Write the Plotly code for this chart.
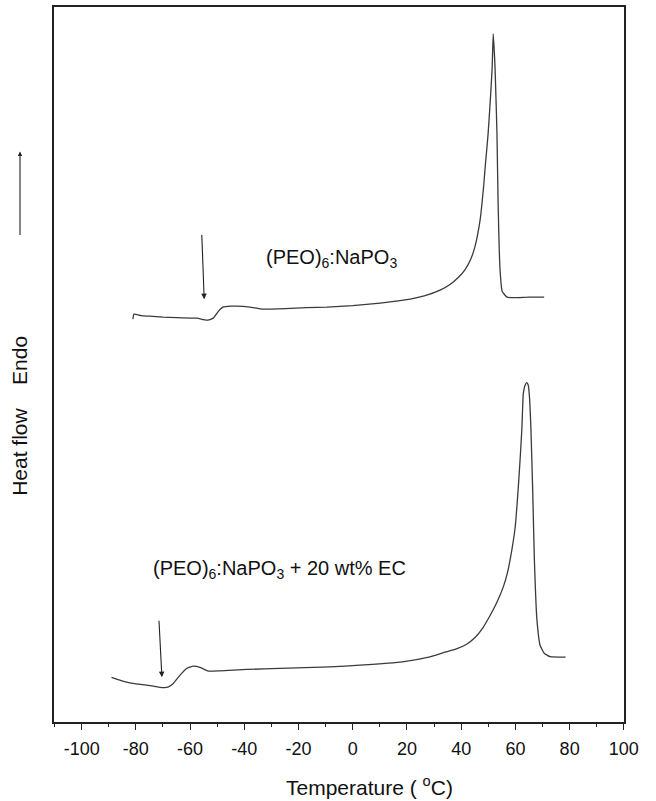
import plotly.graph_objects as go

# Sample 1: (PEO)6:NaPO3
t1 = [-81.1, -80.7, -78, -75, -70, -65, -60, -57.4, -55, -53.4, -51.5, -49.5, -47.9, -45, -42.7,
      -38, -33.1, -25, -17, -9.5, 0, 10.1, 21.2, 26.7, 32.2, 36, 39, 41.5, 43.5, 45, 46, 47,
      47.7, 48.3, 48.8, 49.9, 50.7, 51.4, 51.8, 52.5, 53.2, 53.6, 54.3, 55.1, 56.9, 60, 65, 70.6]
h1 = [40.4, 40.9, 40.75, 40.7, 40.6, 40.55, 40.5, 40.5, 40.35, 40.3, 40.5, 41.2, 41.6, 41.7, 41.7,
      41.6, 41.4, 41.45, 41.55, 41.6, 41.75, 42.0, 42.4, 42.75, 43.3, 43.9, 44.6, 45.4, 46.4, 47.6, 48.8, 50.4,
      52.1, 53.8, 55.5, 58.9, 62.2, 65.5, 69.0, 65.5, 58.9, 52.2, 45.5, 43.2, 42.6, 42.55, 42.6, 42.6]

# Sample 2: (PEO)6:NaPO3 + 20 wt% EC
t2 = [-89, -85.5, -82.2, -79, -76, -73.5, -71.1, -69.5, -68, -66.2, -63.7, -61.3, -58.8, -56.3,
      -53.3, -49, -39.1, -26.8, -8.4, 2.7, 18.3, 28, 34, 38, 42, 45, 48, 50.5, 53, 55.6, 57, 58, 59.9,
      60.9, 61.7, 62.4, 62.9, 63.6, 64.2, 64.7, 65.1, 65.7, 66.4, 67.0, 67.9, 69.1, 70.6, 72.8, 78.5]
h2 = [4.47, 4.15, 3.93, 3.8, 3.7, 3.6, 3.47, 3.45, 3.53, 3.87, 4.7, 5.37, 5.6, 5.47,
      5.1, 5.13, 5.27, 5.37, 5.53, 5.7, 6.03, 6.5, 7.0, 7.3, 7.8, 8.45, 9.45, 10.6, 11.9, 13.6, 14.9, 16.2, 19.5,
      22.9, 26.2, 29.5, 32.9, 33.8, 34.03, 33.8, 32.9, 29.53, 22.9, 16.2, 10.37, 7.7, 6.9, 6.55, 6.5]

x_ticks = [-100, -80, -60, -40, -20, 0, 20, 40, 60, 80, 100]
x_tick_text = ["-100", "-80", "-60", "-40", "-20", "0", "20", "40", "60", "80", "100"]
label1 = "(PEO)<sub>6</sub>:NaPO<sub>3</sub>"
label2 = "(PEO)<sub>6</sub>:NaPO<sub>3</sub> + 20 wt% EC"
# glass transition markers (arrow head x, y / tail x, y)
tg1 = dict(x=-54.8, y=42.4, ax=-55.7, ay=49.0)
tg2 = dict(x=-70.4, y=4.5, ax=-71.5, ay=10.3)

FONT = "Liberation Sans, Arial, sans-serif"
LC = "#3a3a3a"

fig = go.Figure()
fig.add_trace(go.Scatter(x=t1, y=h1, mode="lines", line=dict(color=LC, width=1.3, shape="spline", smoothing=0.4),
                         showlegend=False, hoverinfo="skip"))
fig.add_trace(go.Scatter(x=t2, y=h2, mode="lines", line=dict(color=LC, width=1.3, shape="spline", smoothing=0.4),
                         showlegend=False, hoverinfo="skip"))

for tg in (tg1, tg2):
    fig.add_annotation(x=tg["x"], y=tg["y"], ax=tg["ax"], ay=tg["ay"], xref="x", yref="y",
                       axref="x", ayref="y", text="", showarrow=True, arrowhead=2, arrowsize=1,
                       arrowwidth=1.1, arrowcolor="#222")

fig.add_annotation(x=(331 - 54) / 570, y=(722 - 257) / 717, xref="paper", yref="paper", text=label1,
                   showarrow=False, font=dict(family=FONT, size=20, color="#111"),
                   xanchor="center", yanchor="middle")
fig.add_annotation(x=(279 - 54) / 570, y=(722 - 569) / 717, xref="paper", yref="paper", text=label2,
                   showarrow=False, font=dict(family=FONT, size=20, color="#111"),
                   xanchor="center", yanchor="middle")

# Y label with arrow
fig.add_annotation(x=(20 - 54) / 570, y=(722 - 150) / 717, xref="paper", yref="paper", text="",
                   showarrow=True, ax=0, ay=85, arrowhead=2, arrowsize=0.8, arrowwidth=1.1, arrowcolor="#222")
fig.add_annotation(x=(20 - 54) / 570, y=(722 - 415) / 717, xref="paper", yref="paper",
                   text="Heat flow &nbsp;&nbsp; Endo", textangle=-90, showarrow=False,
                   font=dict(family=FONT, size=21, color="#111"), xanchor="center", yanchor="middle")

# X title
fig.add_annotation(x=(370 - 54) / 570, y=(722 - 786) / 717, xref="paper", yref="paper",
                   text="Temperature ( <sup>o</sup>C)", showarrow=False,
                   font=dict(family=FONT, size=21, color="#111"), xanchor="center", yanchor="middle")

fig.update_layout(
    width=656, height=801,
    margin=dict(l=54, r=32, t=5, b=79),
    paper_bgcolor="white", plot_bgcolor="white",
    font=dict(family=FONT, color="#111"),
    xaxis=dict(range=[-110.2, 100.05], tickvals=x_ticks, ticktext=x_tick_text, ticks="outside",
               ticklen=6, tickwidth=1.2, ticklabelstandoff=4,
               tickcolor="#222", showline=True, linecolor="#222", linewidth=1.5, mirror=True,
               showgrid=False, zeroline=False, tickfont=dict(family=FONT, size=18, color="#111"),
               minor=dict(dtick=10, tick0=0, ticks="outside", ticklen=3, tickwidth=1.2, tickcolor="#222",
                          showgrid=False)),
    yaxis=dict(range=[0, 71.7], showticklabels=False, ticks="", showline=True, linecolor="#222",
               linewidth=1.5, mirror=True, showgrid=False, zeroline=False),
)

fig.write_html("out.html")
